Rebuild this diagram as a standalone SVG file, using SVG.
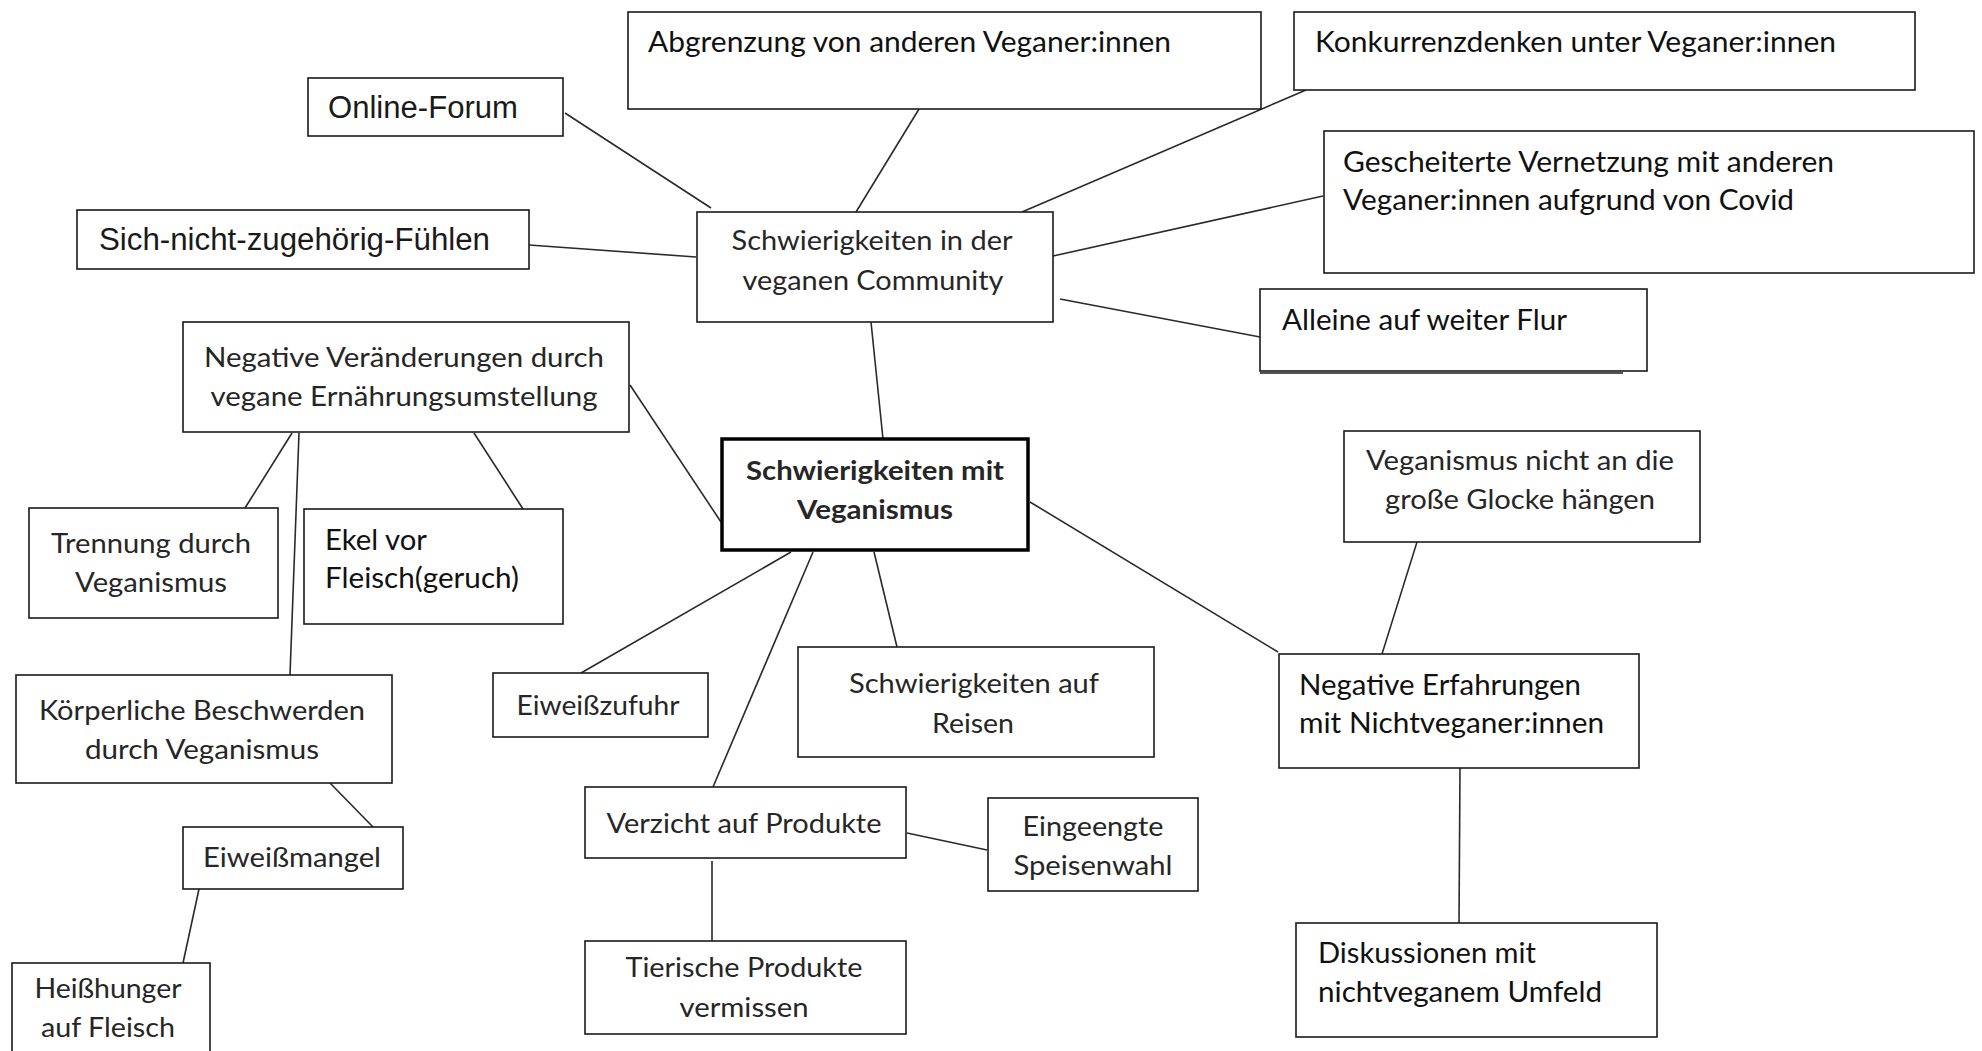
<svg xmlns="http://www.w3.org/2000/svg" width="1982" height="1051" viewBox="0 0 1982 1051">
<style>
.b{fill:#fff;stroke:#1a1a1a;stroke-width:1.6}
.c{font-family:Lato,"Open Sans","Noto Sans",sans-serif;font-size:28px;fill:#111}
.s{fill:#262626;font-size:27px}
.a{font-family:"Liberation Sans",Arial,sans-serif;font-size:31px;fill:#1a1a1a}
.m{text-anchor:middle}
.bold{font-weight:bold}
#edges line{stroke:#2a2a2a;stroke-width:1.6}
</style>
<rect width="1982" height="1051" fill="#fff"/>
<g id="edges">
<line x1="565" y1="113" x2="711" y2="208"/>
<line x1="529" y1="245" x2="696" y2="257"/>
<line x1="919" y1="109" x2="856" y2="212"/>
<line x1="1306" y1="90" x2="1022" y2="212"/>
<line x1="1323" y1="196" x2="1053" y2="256"/>
<line x1="1060" y1="299" x2="1260" y2="337"/>
<line x1="871" y1="322" x2="883" y2="439"/>
<line x1="630" y1="385" x2="721" y2="522"/>
<line x1="292" y1="433" x2="245" y2="508"/>
<line x1="299" y1="433" x2="290" y2="675"/>
<line x1="474" y1="433" x2="523" y2="509"/>
<line x1="330" y1="783" x2="373" y2="827"/>
<line x1="199" y1="889" x2="183" y2="963"/>
<line x1="791" y1="552" x2="581" y2="673"/>
<line x1="813" y1="552" x2="713" y2="787"/>
<line x1="874" y1="552" x2="897" y2="647"/>
<line x1="1030" y1="502" x2="1278" y2="652"/>
<line x1="1417" y1="542" x2="1382" y2="654"/>
<line x1="1460" y1="768" x2="1459" y2="923"/>
<line x1="907" y1="833" x2="987" y2="850"/>
<line x1="712" y1="861" x2="712" y2="941"/>
</g>
<g id="online-forum"><rect class="b" x="308" y="78" width="255" height="58"/><text class="a" x="328" y="118" textLength="190" lengthAdjust="spacingAndGlyphs">Online-Forum</text></g>
<g id="sich-nicht-zugehoerig"><rect class="b" x="77" y="210" width="452" height="59"/><text class="a" x="99" y="250" textLength="391" lengthAdjust="spacingAndGlyphs">Sich-nicht-zugehörig-Fühlen</text></g>
<g id="abgrenzung"><rect class="b" x="628" y="12" width="633" height="97"/><text class="c" x="648" y="52" textLength="523" lengthAdjust="spacingAndGlyphs">Abgrenzung von anderen Veganer:innen</text></g>
<g id="konkurrenz"><rect class="b" x="1294" y="12" width="621" height="78"/><text class="c" x="1315" y="52" textLength="521" lengthAdjust="spacingAndGlyphs">Konkurrenzdenken unter Veganer:innen</text></g>
<g id="gescheiterte-vernetzung"><rect class="b" x="1324" y="131" width="650" height="142"/><text class="c" x="1343" y="172" textLength="491" lengthAdjust="spacingAndGlyphs">Gescheiterte Vernetzung mit anderen</text><text class="c" x="1343" y="210" textLength="451" lengthAdjust="spacingAndGlyphs">Veganer:innen aufgrund von Covid</text></g>
<g id="alleine"><line x1="1260" y1="373" x2="1623" y2="373" stroke="#1a1a1a" stroke-width="1.6"/><rect class="b" x="1260" y="289" width="387" height="82"/><text class="c" x="1282" y="330" textLength="285" lengthAdjust="spacingAndGlyphs">Alleine auf weiter Flur</text></g>
<g id="community"><rect class="b" x="697" y="212" width="356" height="110"/><text class="c s m" x="872" y="250" textLength="281" lengthAdjust="spacingAndGlyphs">Schwierigkeiten in der</text><text class="c s m" x="873" y="290" textLength="261" lengthAdjust="spacingAndGlyphs">veganen Community</text></g>
<g id="negative-veraenderungen"><rect class="b" x="183" y="322" width="446" height="110"/><text class="c s m" x="404" y="367" textLength="400" lengthAdjust="spacingAndGlyphs">Negative Veränderungen durch</text><text class="c s m" x="404" y="406" textLength="387" lengthAdjust="spacingAndGlyphs">vegane Ernährungsumstellung</text></g>
<g id="trennung"><rect class="b" x="29" y="508" width="249" height="110"/><text class="c s m" x="151" y="553" textLength="200" lengthAdjust="spacingAndGlyphs">Trennung durch</text><text class="c s m" x="151" y="592" textLength="152" lengthAdjust="spacingAndGlyphs">Veganismus</text></g>
<g id="ekel"><rect class="b" x="304" y="509" width="259" height="115"/><text class="c" x="325" y="550" textLength="102" lengthAdjust="spacingAndGlyphs">Ekel vor</text><text class="c" x="325" y="588" textLength="194" lengthAdjust="spacingAndGlyphs">Fleisch(geruch)</text></g>
<g id="center"><rect x="722" y="439" width="306" height="111" fill="#fff" stroke="#000" stroke-width="3.5"/><text class="c s m bold" x="875" y="480" textLength="258" lengthAdjust="spacingAndGlyphs">Schwierigkeiten mit</text><text class="c s m bold" x="875" y="519" textLength="156" lengthAdjust="spacingAndGlyphs">Veganismus</text></g>
<g id="koerperliche"><rect class="b" x="16" y="675" width="376" height="108"/><text class="c s m" x="202" y="720" textLength="326" lengthAdjust="spacingAndGlyphs">Körperliche Beschwerden</text><text class="c s m" x="202" y="759" textLength="234" lengthAdjust="spacingAndGlyphs">durch Veganismus</text></g>
<g id="eiweissmangel"><rect class="b" x="183" y="827" width="220" height="62"/><text class="c s m" x="292" y="867" textLength="178" lengthAdjust="spacingAndGlyphs">Eiweißmangel</text></g>
<g id="heisshunger"><rect class="b" x="12" y="963" width="198" height="100"/><text class="c s m" x="108" y="998" textLength="147" lengthAdjust="spacingAndGlyphs">Heißhunger</text><text class="c s m" x="108" y="1037" textLength="134" lengthAdjust="spacingAndGlyphs">auf Fleisch</text></g>
<g id="eiweisszufuhr"><rect class="b" x="493" y="673" width="215" height="64"/><text class="c s m" x="598" y="715" textLength="163" lengthAdjust="spacingAndGlyphs">Eiweißzufuhr</text></g>
<g id="reisen"><rect class="b" x="798" y="647" width="356" height="110"/><text class="c s m" x="974" y="693" textLength="250" lengthAdjust="spacingAndGlyphs">Schwierigkeiten auf</text><text class="c s m" x="973" y="733" textLength="82" lengthAdjust="spacingAndGlyphs">Reisen</text></g>
<g id="verzicht"><rect class="b" x="585" y="787" width="321" height="71"/><text class="c s m" x="744" y="833" textLength="275" lengthAdjust="spacingAndGlyphs">Verzicht auf Produkte</text></g>
<g id="eingeengte"><rect class="b" x="988" y="798" width="210" height="93"/><text class="c s m" x="1093" y="836" textLength="141" lengthAdjust="spacingAndGlyphs">Eingeengte</text><text class="c s m" x="1093" y="875" textLength="159" lengthAdjust="spacingAndGlyphs">Speisenwahl</text></g>
<g id="tierische"><rect class="b" x="585" y="941" width="321" height="93"/><text class="c s m" x="744" y="977" textLength="237" lengthAdjust="spacingAndGlyphs">Tierische Produkte</text><text class="c s m" x="744" y="1017" textLength="129" lengthAdjust="spacingAndGlyphs">vermissen</text></g>
<g id="grosse-glocke"><rect class="b" x="1344" y="431" width="356" height="111"/><text class="c s m" x="1520" y="470" textLength="308" lengthAdjust="spacingAndGlyphs">Veganismus nicht an die</text><text class="c s m" x="1520" y="509" textLength="270" lengthAdjust="spacingAndGlyphs">große Glocke hängen</text></g>
<g id="negative-erfahrungen"><rect class="b" x="1279" y="654" width="360" height="114"/><text class="c" x="1299" y="695" textLength="282" lengthAdjust="spacingAndGlyphs">Negative Erfahrungen</text><text class="c" x="1299" y="733" textLength="305" lengthAdjust="spacingAndGlyphs">mit Nichtveganer:innen</text></g>
<g id="diskussionen"><rect class="b" x="1296" y="923" width="361" height="114"/><text class="c" x="1318" y="963" textLength="218" lengthAdjust="spacingAndGlyphs">Diskussionen mit</text><text class="c" x="1318" y="1002" textLength="284" lengthAdjust="spacingAndGlyphs">nichtveganem Umfeld</text></g>
</svg>
